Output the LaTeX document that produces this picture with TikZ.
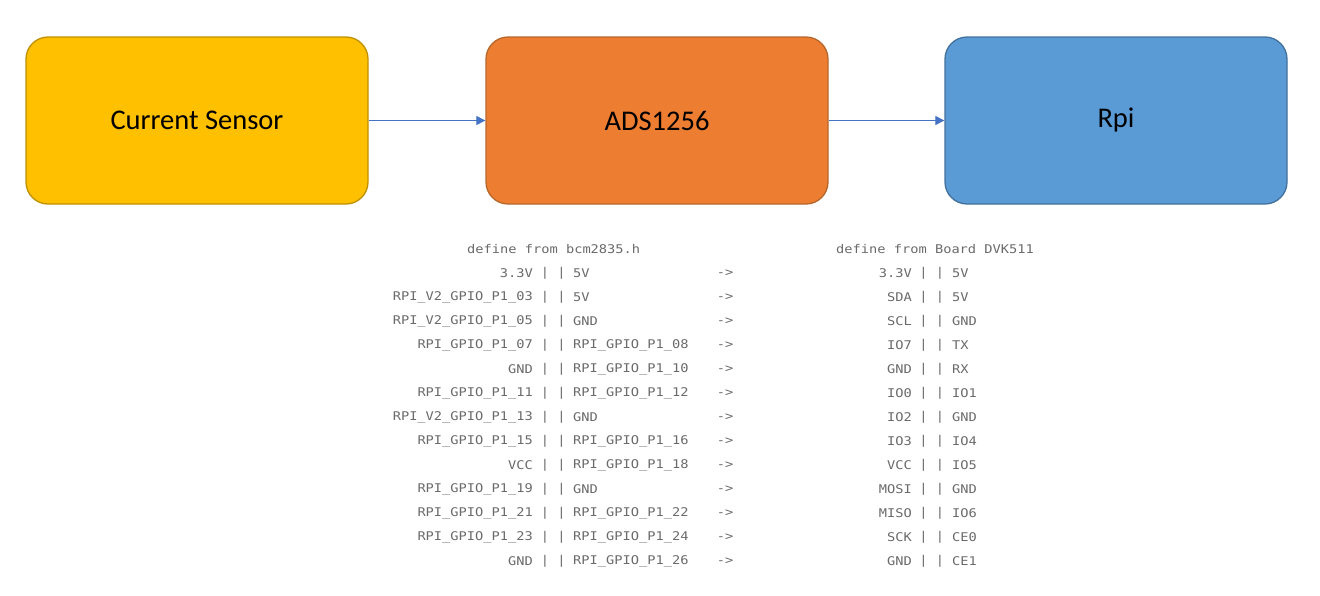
\documentclass[tikz,border=0pt]{standalone}
\usepackage{fontspec}
\setmainfont{Carlito}
\newfontfamily\monofont[FakeStretch=1.14]{DejaVu Sans Mono}
\usetikzlibrary{arrows.meta}
\definecolor{sensorfill}{HTML}{FFC000}
\definecolor{sensordraw}{HTML}{BF9000}
\definecolor{adsfill}{HTML}{ED7D31}
\definecolor{adsdraw}{HTML}{B6672B}
\definecolor{rpifill}{HTML}{5B9BD5}
\definecolor{rpidraw}{HTML}{41719C}
\definecolor{arrowcol}{HTML}{4472C4}
\definecolor{tabtext}{HTML}{6A6A6A}
\tikzset{
  block/.style={rounded corners=22pt, line width=1.3pt, minimum width=342pt, minimum height=167pt, inner sep=0pt,
    font=\fontsize{28.5}{34}\selectfont, text=black},
  link/.style={draw=arrowcol, line width=1pt, -{Triangle[length=9pt,width=9pt]}},
  cell/.style={inner sep=0pt, font=\monofont\fontsize{12}{14}\selectfont, text=tabtext},
  lcell/.style={cell, anchor=east},
  rcell/.style={cell, anchor=west},
  ccell/.style={cell, anchor=center},
}
\begin{document}
\begin{tikzpicture}[x=1pt,y=-1pt]
\useasboundingbox (0,0) rectangle (1320,595);
\node[block, fill=sensorfill, draw=sensordraw] (sensor) at (197,120.5) {Current Sensor};
\node[block, fill=adsfill, draw=adsdraw] (ads) at (657,120.5) {ADS1256};
\node[block, fill=rpifill, draw=rpidraw] (rpi) at (1116,120.5) {\strut Rpi};
\draw[link] (sensor.east) -- (ads.west);
\draw[link] (ads.east) -- (rpi.west);

\node[rcell] (h1) at (467,249.5) {define from bcm2835.h};
\node[rcell] (h2) at (836,249.5) {define from Board DVK511};

\foreach \a/\b/\c/\d [count=\i from 0] in {
 3.3V/5V/3.3V/5V,
 RPI\_V2\_GPIO\_P1\_03/5V/SDA/5V,
 RPI\_V2\_GPIO\_P1\_05/GND/SCL/GND,
 RPI\_GPIO\_P1\_07/RPI\_GPIO\_P1\_08/IO7/TX,
 GND/RPI\_GPIO\_P1\_10/GND/RX,
 RPI\_GPIO\_P1\_11/RPI\_GPIO\_P1\_12/IO0/IO1,
 RPI\_V2\_GPIO\_P1\_13/GND/IO2/GND,
 RPI\_GPIO\_P1\_15/RPI\_GPIO\_P1\_16/IO3/IO4,
 VCC/RPI\_GPIO\_P1\_18/VCC/IO5,
 RPI\_GPIO\_P1\_19/GND/MOSI/GND,
 RPI\_GPIO\_P1\_21/RPI\_GPIO\_P1\_22/MISO/IO6,
 RPI\_GPIO\_P1\_23/RPI\_GPIO\_P1\_24/SCK/CE0,
 GND/RPI\_GPIO\_P1\_26/GND/CE1}{
  \pgfmathsetmacro{\yy}{273.5+24*\i}
  \node[lcell] (la\i) at (533,\yy) {\a};
  \node[ccell] (lp\i) at (545,\yy) {|};
  \node[ccell] (lq\i) at (561.5,\yy) {|};
  \node[rcell] (lb\i) at (573,\yy) {\b};
  \node[ccell] (ar\i) at (725,\yy) {->};
  \node[lcell] (ra\i) at (912,\yy) {\c};
  \node[ccell] (rp\i) at (923.5,\yy) {|};
  \node[ccell] (rq\i) at (940,\yy) {|};
  \node[rcell] (rb\i) at (952,\yy) {\d};
}
\end{tikzpicture}
\end{document}
